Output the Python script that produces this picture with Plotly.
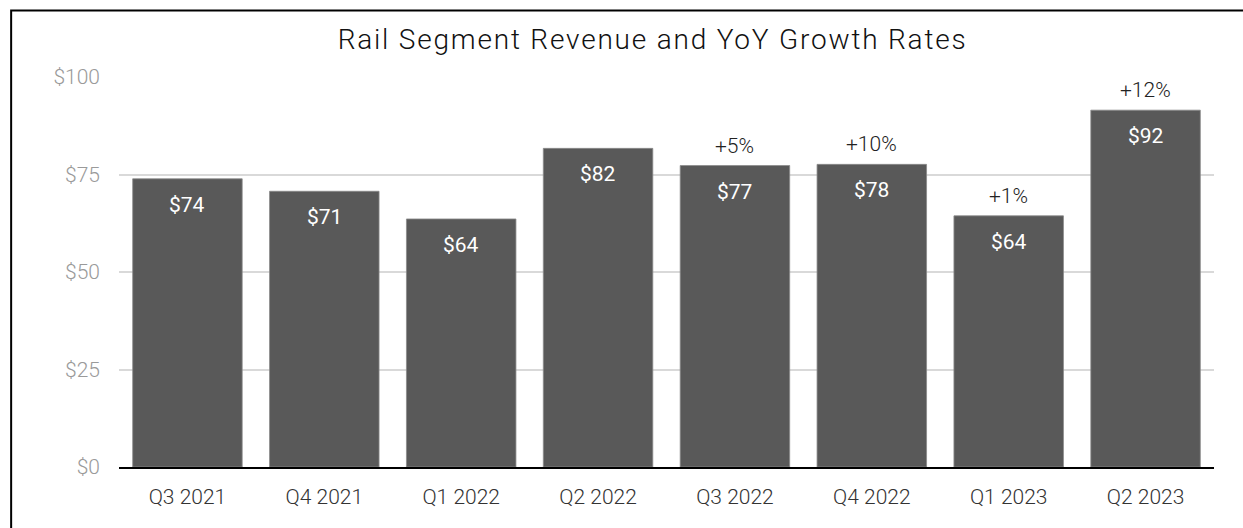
import plotly.graph_objects as go

quarters = ["Q3 2021", "Q4 2021", "Q1 2022", "Q2 2022", "Q3 2022", "Q4 2022", "Q1 2023", "Q2 2023"]
revenue = [73.9, 70.7, 63.6, 81.7, 77.3, 77.6, 64.4, 91.5]
growth = [None, None, None, None, "+5%", "+10%", "+1%", "+12%"]
ytick_vals = [0, 25, 50, 75, 100]
ytick_text = ["$0", "$25", "$50", "$75", "$100"]

FONT = "Roboto Light, Roboto"

fig = go.Figure()
fig.add_trace(go.Bar(
    x=quarters, y=revenue,
    marker=dict(color="#595959", line=dict(color="#8a8a8a", width=0.8)),
    hoverinfo="skip",
))

for q, v in zip(quarters, revenue):
    fig.add_annotation(x=q, y=v, text=f"${round(v)}", showarrow=False,
                       yanchor="middle", yshift=-26,
                       font=dict(family="Roboto", size=21, color="white"))

for q, v, g in zip(quarters, revenue, growth):
    if g:
        fig.add_annotation(x=q, y=v, text=g, showarrow=False,
                           yanchor="middle", yshift=20,
                           font=dict(family=FONT, size=21, color="#222", weight=300))

# outer frame (only left/top visible in reference)
fig.add_shape(type="rect", xref="paper", yref="paper",
              x0=-0.0985, x1=1.2, y0=-0.5, y1=1.1705,
              line=dict(color="black", width=2), layer="above")

fig.update_layout(
    width=1243, height=528,
    margin=dict(l=118.5, r=28.5, t=77, b=61),
    paper_bgcolor="white", plot_bgcolor="white",
    showlegend=False,
    bargap=0.2,
    title=dict(text="Rail Segment Revenue and YoY Growth Rates",
               x=0.525, xanchor="center", xref="container",
               y=1 - 39 / 528, yanchor="middle", yref="container",
               font=dict(family=FONT, size=28, color="#111", weight=300)),
    xaxis=dict(
        showgrid=False, showline=True, linecolor="black", linewidth=2,
        tickfont=dict(family=FONT, size=21, color="#333", weight=300),
        ticks="", ticklabelstandoff=10,
    ),
    yaxis=dict(
        range=[0, 100], tickvals=ytick_vals, ticktext=ytick_text,
        showgrid=True, gridcolor="#d9d9d9", gridwidth=1.5,
        zeroline=False, showline=False,
        tickfont=dict(family=FONT, size=21, color="#9a9a9a", weight=300),
        ticks="", ticklabelstandoff=18,
    ),
)

post = (
    "document.body.style.margin='0';document.body.style.overflow='hidden';"
    "document.querySelectorAll('.gtitle').forEach(function(e){e.style.letterSpacing='1.8px';});"
)
fig.write_html("out.html", post_script=post, config={"displayModeBar": False})
